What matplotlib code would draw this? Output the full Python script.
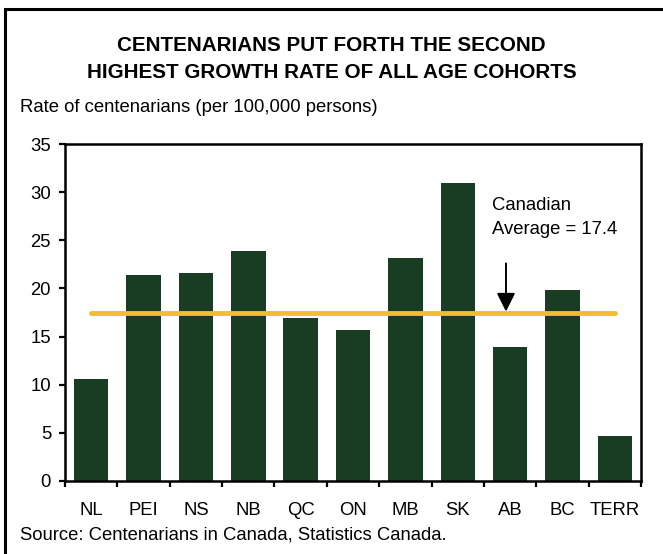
import numpy as np
import matplotlib
matplotlib.use("Agg")
from matplotlib import pyplot as plt
from matplotlib.patches import Rectangle

plt.rcParams['font.family'] = ['Liberation Sans', 'DejaVu Sans']

provinces = ['NL', 'PEI', 'NS', 'NB', 'QC', 'ON', 'MB', 'SK', 'AB', 'BC', 'TERR']
rates = [10.6, 21.4, 21.6, 23.9, 16.9, 15.7, 23.2, 31.0, 13.9, 19.8, 4.7]
canada_avg = 17.4

bar_colour = '#193d23'
avg_colour = '#f2be2f'
fs = 13.3

fig = plt.figure(figsize=(6.63, 5.54), dpi=100)
ax = fig.add_axes([0.098, 0.1318, 0.869, 0.6082])

x = np.arange(len(provinces))
ax.bar(x, rates, width=0.66, color=bar_colour, zorder=2)
ax.plot([x[0], x[-1]], [canada_avg, canada_avg], color=avg_colour, lw=3.5,
        solid_capstyle='round', zorder=3)

ax.set_xlim(-0.5, len(provinces) - 0.5)
ax.set_ylim(0, 35)
ax.set_yticks(range(0, 36, 5))
ax.set_xticks(x)
ax.set_xticklabels(provinces)
ax.set_xticks(np.arange(-0.5, len(provinces), 1), minor=True)
ax.tick_params(axis='x', which='major', length=0, pad=15, labelsize=fs)
ax.tick_params(axis='x', which='minor', length=4.5, width=1.6, direction='out')
ax.tick_params(axis='y', length=4.5, width=1.6, direction='out', labelsize=fs, pad=5.5)
for s in ax.spines.values():
    s.set_linewidth(1.8)

# arrow pointing at the average line
ax.annotate('', xy=(7.92, 17.6), xytext=(7.92, 22.6),
            arrowprops=dict(arrowstyle='-|>', color='k', lw=1.4, mutation_scale=28,
                            shrinkA=0, shrinkB=0))
ax.text(7.655, 27.4, 'Canadian\nAverage = 17.4', ha='left', va='center', fontsize=fs,
        linespacing=1.55)

fig.text(0.5, 1 - 59 / 554, 'CENTENARIANS PUT FORTH THE SECOND\nHIGHEST GROWTH RATE OF ALL AGE COHORTS',
         ha='center', va='center', fontsize=14.9, fontweight='bold', linespacing=1.55)
fig.text(20 / 663, 1 - 108 / 554, 'Rate of centenarians (per 100,000 persons)',
         ha='left', va='center', fontsize=fs)
fig.text(20 / 663, 1 - 535 / 554, 'Source: Centenarians in Canada, Statistics Canada.',
         ha='left', va='center', fontsize=fs)

# outer frame, runs off the right and bottom edges
fig.patches.append(Rectangle((5 / 663, -0.05), 1.1, 1 - 9 / 554 + 0.05,
                             transform=fig.transFigure, fill=False, ec='k', lw=2.2,
                             clip_on=False))

fig.savefig('out.png', dpi=100)
